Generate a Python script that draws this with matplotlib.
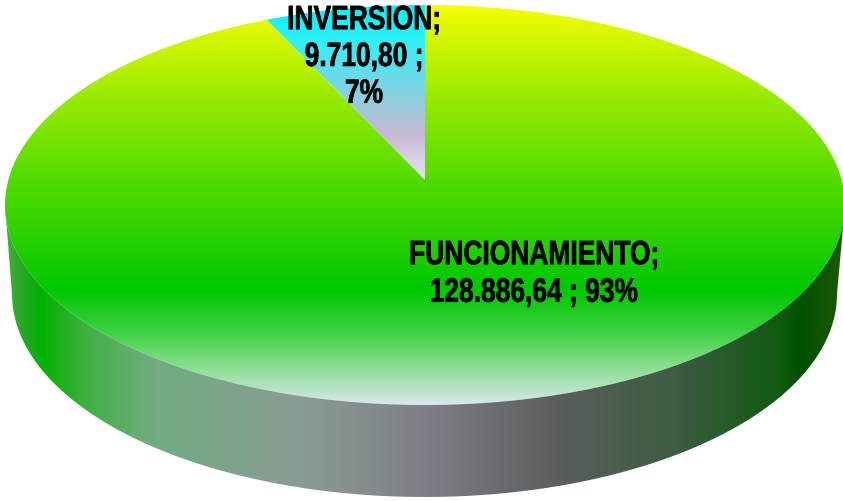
import numpy as np
import matplotlib
matplotlib.use('Agg')
import matplotlib.pyplot as plt
from matplotlib.colors import LinearSegmentedColormap
from matplotlib.path import Path
from matplotlib.patches import PathPatch
from matplotlib.patheffects import AbstractPathEffect
from matplotlib.transforms import Affine2D

# datos
categorias = ['INVERSION', 'FUNCIONAMIENTO']
valores = [9710.80, 128886.64]
textos_valor = ['9.710,80', '128.886,64']
porcentajes = ['7%', '93%']

W, H = 843, 501

# degradados (pixel y o x, color)
grad_verde = [(0, '#ffff00'), (30, '#dcf800'), (100, '#96ea00'), (180, '#52dc00'),
              (240, '#28d000'), (290, '#00c800'), (330, '#3ad040'), (360, '#7cdc80'),
              (390, '#b8e4c8'), (405, '#dce8f0'), (501, '#dce8f0')]
grad_cian = [(0, '#00f0ff'), (40, '#30f0f8'), (80, '#70d8e8'), (110, '#a0c8dc'),
             (135, '#c8b8d4'), (160, '#d8d4e4'), (181, '#e4e4f0'), (501, '#e4e4f0')]
grad_lado = [(0, '#50b040'), (25, '#20a820'), (42, '#00b400'), (85, '#40b040'),
             (150, '#70ac80'), (300, '#8a9c94'), (420, '#808088'), (560, '#5a5e5e'),
             (680, '#3c5c40'), (780, '#105a10'), (800, '#005000'), (843, '#1c5a00')]


def cmap_de(stops, total):
    return LinearSegmentedColormap.from_list('g', [(p / total, c) for p, c in stops], N=1024)


def px(x):
    return (x - 425) / 420


def py(y):
    return (205 - y) / 200


# estira el texto en vertical (imita una fuente condensada) y lo engrosa un poco
class Estirar(AbstractPathEffect):
    def __init__(self, centro_y, k):
        super().__init__()
        self.centro_y = centro_y
        self.k = k

    def draw_path(self, renderer, gc, tpath, affine, rgbFace=None):
        t = Affine2D().translate(0, -self.centro_y).scale(1, self.k).translate(0, self.centro_y)
        gc0 = renderer.new_gc()
        gc0.copy_properties(gc)
        gc0.set_foreground('black')
        gc0.set_linewidth(0.5)
        renderer.draw_path(gc0, tpath, affine + t, rgbFace)
        gc0.restore()


fig = plt.figure(figsize=(W / 100, H / 100), dpi=100)
ax = fig.add_axes([0, 0, 1, 1])

# la torta queda aplastada porque el eje no es "equal"
wedges, _ = ax.pie(valores, startangle=90, radius=1.25, center=(0, py(180)),
                   wedgeprops={'facecolor': 'none', 'linewidth': 0})
ax.set_aspect('auto')
extent = (px(0), px(W), py(H), py(0))

fila = np.linspace(0, 1, 1024).reshape(-1, 1)
for wedge, stops in zip(wedges, [grad_cian, grad_verde]):
    im = ax.imshow(fila, cmap=cmap_de(stops, H), extent=extent, aspect='auto', zorder=1,
                   vmin=0, vmax=1)
    im.set_clip_path(wedge)

# mascara blanca fuera de la elipse superior
t = np.linspace(2 * np.pi, 0, 400)
ex, ey = np.cos(t), np.sin(t)
marco = [(px(-20), py(-20)), (px(-20), py(H + 20)), (px(W + 20), py(H + 20)), (px(W + 20), py(-20)), (px(-20), py(-20))]
verts = marco + list(zip(ex, ey))
codes = [Path.MOVETO] + [Path.LINETO] * 3 + [Path.CLOSEPOLY] + [Path.MOVETO] + [Path.LINETO] * 399
ax.add_patch(PathPatch(Path(verts, codes), fc='white', ec='none', zorder=2))

# lado del cilindro
s = np.linspace(np.pi, 2 * np.pi, 300)
abajo_x = px(424.5 + 412.5 * np.cos(s))
abajo_y = py(294 + 203 * -np.sin(s))
arriba_x = np.cos(s[::-1])
arriba_y = np.sin(s[::-1])
lado = Path(np.column_stack([np.r_[abajo_x, arriba_x, abajo_x[0]], np.r_[abajo_y, arriba_y, abajo_y[0]]]))
parche = PathPatch(lado, fc='none', ec='none', zorder=3)
ax.add_patch(parche)
im = ax.imshow(np.linspace(0, 1, 1024).reshape(1, -1), cmap=cmap_de(grad_lado, W), extent=extent,
               aspect='auto', zorder=3, vmin=0, vmax=1)
im.set_clip_path(parche)

ax.set_xlim(px(0), px(W))
ax.set_ylim(py(H), py(0))
ax.axis('off')

fuente = {'family': 'Liberation Sans', 'weight': 'bold', 'color': 'black',
          'fontsize': 19, 'ha': 'center', 'va': 'center', 'zorder': 5}
ax.text(px(364), py(57), categorias[0] + ';\n' + textos_valor[0] + ' ;\n' + porcentajes[0],
        linespacing=1.25, path_effects=[Estirar(H - 57, 1.28)], **fuente)
ax.text(px(534), py(274), categorias[1] + ';\n' + textos_valor[1] + ' ; ' + porcentajes[1],
        linespacing=1.28, path_effects=[Estirar(H - 274, 1.28)], **fuente)

fig.savefig('out.png', dpi=100)
